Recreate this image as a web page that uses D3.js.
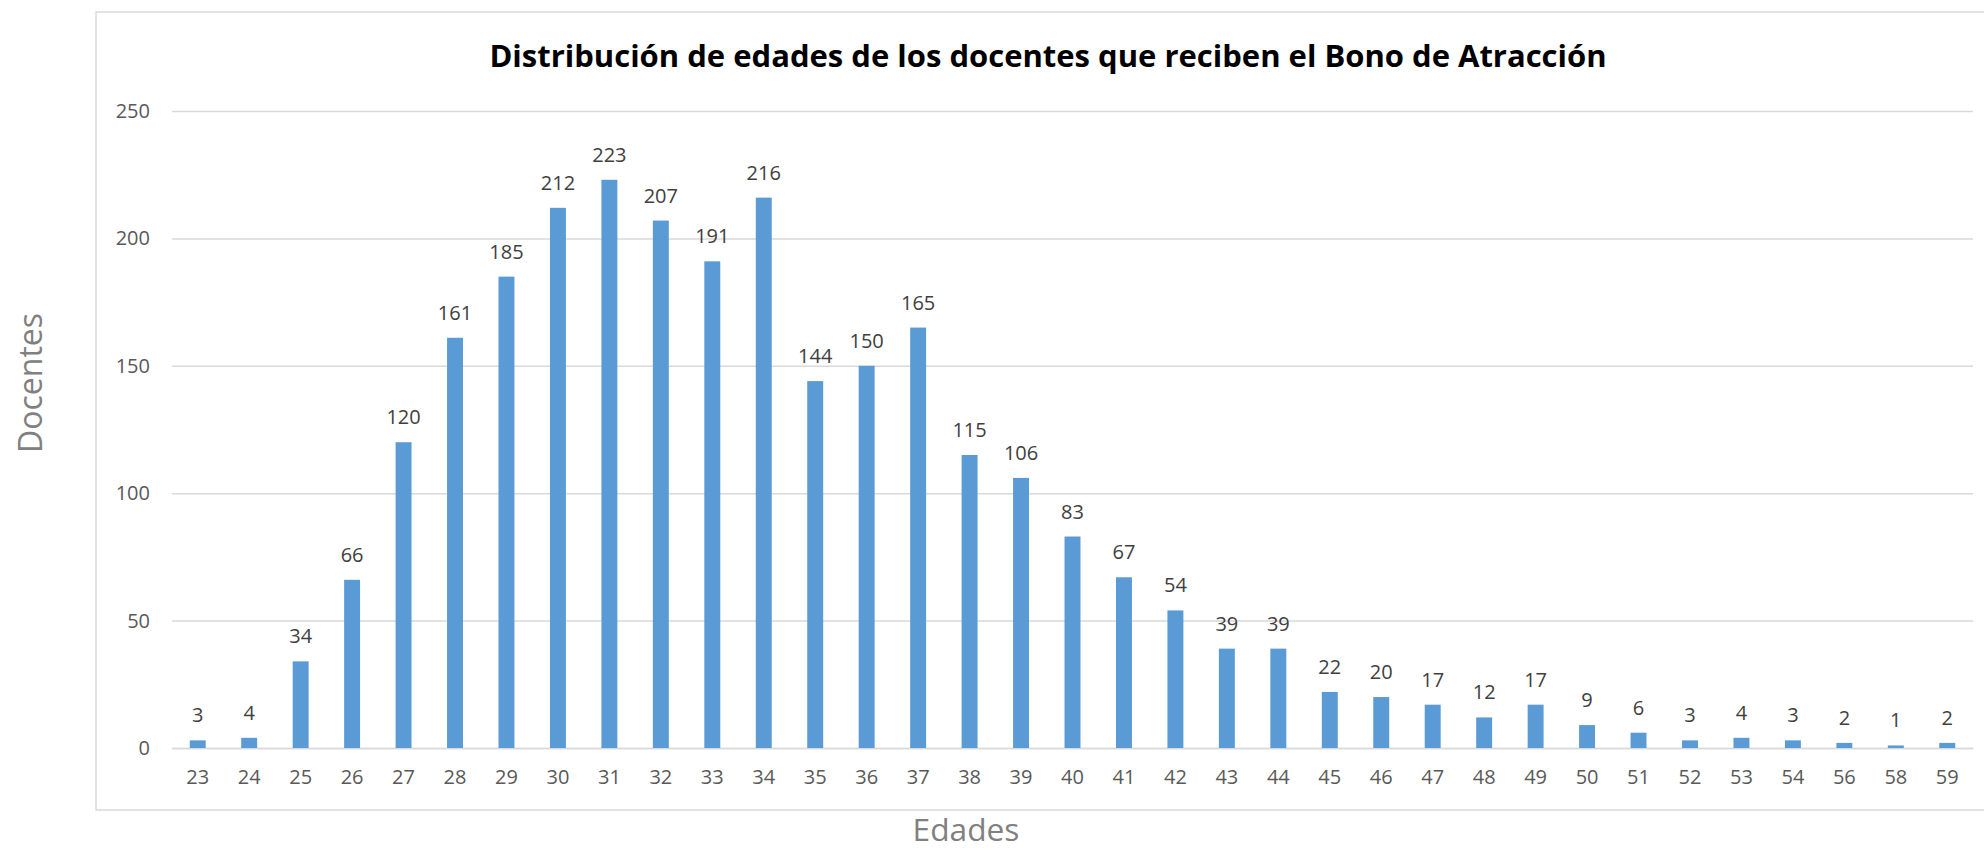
<!DOCTYPE html>
<html>
<head>
<meta charset="utf-8">
<title>Distribución de edades de los docentes</title>
<style>
    body { margin: 0; background: #fff; }
    text { font-family: "Open Sans", "Liberation Sans", sans-serif; }
</style>
</head>
<body>
<main></main>
<script src="https://cdn.jsdelivr.net/npm/d3@7/dist/d3.min.js"></script>
<script>
    // datos ==========================
    var edades = ["23", "24", "25", "26", "27", "28", "29", "30", "31", "32", "33", "34",
        "35", "36", "37", "38", "39", "40", "41", "42", "43", "44", "45", "46", "47",
        "48", "49", "50", "51", "52", "53", "54", "56", "58", "59"];
    var docentes = [3, 4, 34, 66, 120, 161, 185, 212, 223, 207, 191, 216,
        144, 150, 165, 115, 106, 83, 67, 54, 39, 39, 22, 20, 17,
        12, 17, 9, 6, 3, 4, 3, 2, 1, 2];
    var yTicks = [0, 50, 100, 150, 200, 250];

    // parámetros ======================
    var width = 1984;
    var height = 850;
    var plot = {left: 172, right: 1973, top: 111, bottom: 748};
    var barColor = "#5b9bd5";
    var gridColor = "#d9d9d9";

    var svg = d3.select("main").append("svg")
        .attr("width", width)
        .attr("height", height);

    // marco del gráfico
    svg.append("rect")
        .attr("x", 96).attr("y", 12)
        .attr("width", 1900).attr("height", 798)
        .attr("fill", "none")
        .attr("stroke", gridColor)
        .attr("stroke-width", 1.5);

    // escalas
    var x = d3.scaleBand().domain(edades).range([plot.left, plot.right]).padding(0);
    var y = d3.scaleLinear().domain([0, 250]).range([plot.bottom, plot.top]);
    var barW = x.bandwidth() * 0.31;

    // eje y + cuadrícula
    var yAxis = svg.append("g")
        .attr("transform", "translate(" + plot.left + ",0)")
        .call(d3.axisLeft(y).tickValues(yTicks).tickSize(-(plot.right - plot.left)).tickPadding(22));
    yAxis.select(".domain").remove();
    yAxis.selectAll("line").attr("stroke", gridColor).attr("stroke-width", 1.5);
    yAxis.selectAll("text")
        .attr("fill", "#595959")
        .attr("font-size", "20px")
        .attr("font-family", "'Open Sans', sans-serif");

    // eje x
    var xAxis = svg.append("g")
        .attr("transform", "translate(0," + plot.bottom + ")")
        .call(d3.axisBottom(x).tickSize(0).tickPadding(22));
    xAxis.select(".domain").attr("stroke", gridColor).attr("stroke-width", 1.5);
    xAxis.selectAll("text")
        .attr("fill", "#595959")
        .attr("font-size", "20px")
        .attr("font-family", "'Open Sans', sans-serif");

    // barras
    svg.append("g").selectAll("rect")
        .data(docentes)
        .enter().append("rect")
        .attr("x", function (d, i) { return x(edades[i]) + (x.bandwidth() - barW) / 2; })
        .attr("y", function (d) { return y(d); })
        .attr("width", barW)
        .attr("height", function (d) { return y(0) - y(d); })
        .attr("fill", barColor);

    // etiquetas de valores
    svg.append("g").selectAll("text")
        .data(docentes)
        .enter().append("text")
        .attr("x", function (d, i) { return x(edades[i]) + x.bandwidth() / 2; })
        .attr("y", function (d) { return y(d) - 18; })
        .attr("text-anchor", "middle")
        .attr("font-size", "20px")
        .attr("fill", "#404040")
        .text(function (d) { return d; });

    // ajusta el tamaño de letra a un ancho dado
    function fit(sel, target) {
        var size = parseFloat(sel.attr("font-size"));
        var len = sel.node().getComputedTextLength();
        sel.attr("font-size", (size * target / len).toFixed(1) + "px");
    }

    // título
    var title = svg.append("text")
        .attr("x", 1048).attr("y", 67)
        .attr("text-anchor", "middle")
        .attr("font-size", "30px")
        .attr("font-weight", "bold")
        .attr("fill", "#000")
        .text("Distribución de edades de los docentes que reciben el Bono de Atracción");
    fit(title, 1117);

    // títulos de ejes
    var yTitle = svg.append("text")
        .attr("transform", "translate(42,383) rotate(-90)")
        .attr("text-anchor", "middle")
        .attr("font-size", "30px")
        .attr("fill", "#808080")
        .text("Docentes");
    fit(yTitle, 140);

    var xTitle = svg.append("text")
        .attr("x", 966).attr("y", 841)
        .attr("text-anchor", "middle")
        .attr("font-size", "30px")
        .attr("fill", "#808080")
        .text("Edades");
    fit(xTitle, 107);
</script>
</body>
</html>
